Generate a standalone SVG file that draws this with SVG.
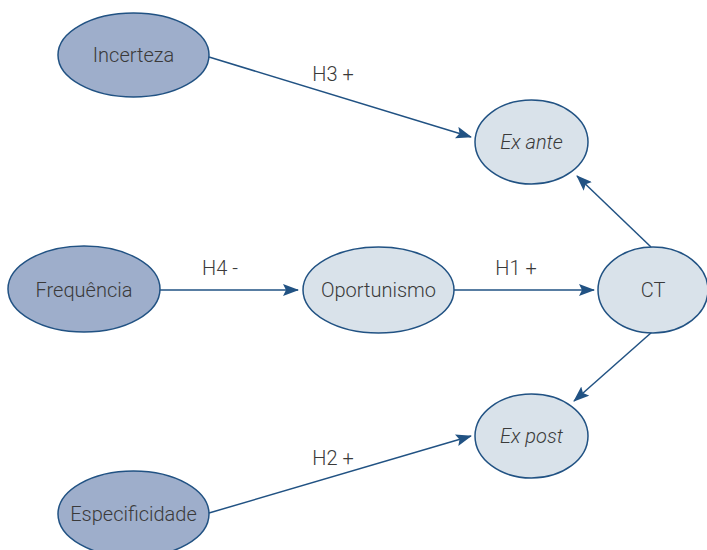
<svg xmlns="http://www.w3.org/2000/svg" width="707" height="550" viewBox="0 0 707 550">
<style>
.dark{fill:#9eaecb;stroke:#215283;stroke-width:1.5}
.light{fill:#d9e2ea;stroke:#215283;stroke-width:1.5}
.t{font-family:Roboto,"Open Sans",sans-serif;font-weight:300;font-size:20px;fill:#3a3a3a;text-anchor:middle;dominant-baseline:central}
.i{font-style:italic}
.c{stroke:#215283;stroke-width:1.5;fill:none;marker-end:url(#a)}
</style>
<defs>
<marker id="a" viewBox="0 0 16 12" refX="15" refY="6" markerWidth="16" markerHeight="12" markerUnits="userSpaceOnUse" orient="auto">
<path d="M0,0 L16,6 L0,12 L3,6 Z" fill="#215283"/>
</marker>
</defs>
<g id="connectors">
<line class="c" x1="209" y1="57" x2="471" y2="137"/>
<line class="c" x1="159" y1="290" x2="298" y2="290"/>
<line class="c" x1="454" y1="290" x2="594" y2="290"/>
<line class="c" x1="651" y1="247" x2="577" y2="176"/>
<line class="c" x1="652" y1="332" x2="574" y2="401"/>
<line class="c" x1="209" y1="513" x2="471" y2="436"/>
<text class="t" x="333" y="74">H3 +</text>
<text class="t" x="220" y="268">H4 -</text>
<text class="t" x="516" y="268">H1 +</text>
<text class="t" x="333" y="458">H2 +</text>
</g>
<g id="incerteza"><ellipse class="dark" cx="133.5" cy="55" rx="75.5" ry="42"/><text class="t" x="133.5" y="55">Incerteza</text></g>
<g id="exante"><ellipse class="light" cx="531.5" cy="142" rx="56.5" ry="42"/><text class="t i" x="531.5" y="142">Ex ante</text></g>
<g id="frequencia"><ellipse class="dark" cx="84" cy="289" rx="76" ry="43"/><text class="t" x="84" y="290">Frequência</text></g>
<g id="oportunismo"><ellipse class="light" cx="378.5" cy="290" rx="75.5" ry="43"/><text class="t" x="378.5" y="290">Oportunismo</text></g>
<g id="ct"><ellipse class="light" cx="653" cy="290" rx="55" ry="43"/><text class="t" x="653" y="290">CT</text></g>
<g id="expost"><ellipse class="light" cx="531.5" cy="436" rx="56.5" ry="42"/><text class="t i" x="531.5" y="436">Ex post</text></g>
<g id="especificidade"><ellipse class="dark" cx="133.5" cy="514" rx="75.5" ry="43"/><text class="t" x="133.5" y="514">Especificidade</text></g>
</svg>
